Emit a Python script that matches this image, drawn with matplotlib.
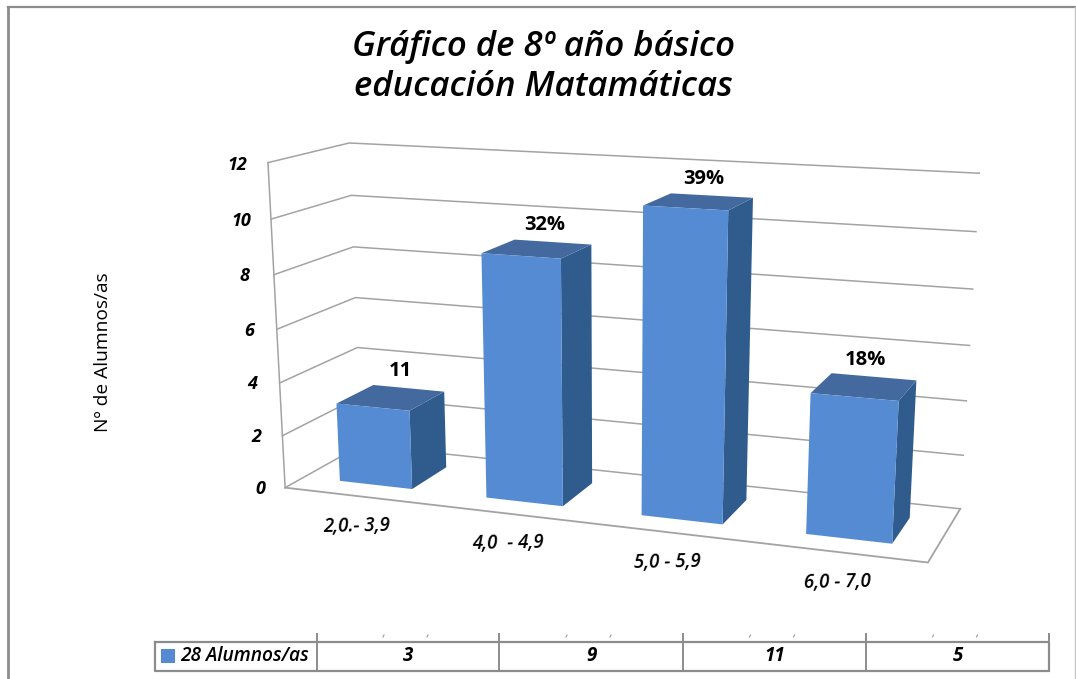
import numpy as np
import matplotlib
matplotlib.use('Agg')
import matplotlib.pyplot as plt
from matplotlib.patches import Polygon

categorias = ['2,0.- 3,9', '4,0  - 4,9', '5,0 - 5,9', '6,0 - 7,0']
alumnos = [3, 9, 11, 5]
etiquetas = ['11', '32%', '39%', '18%']
ticks_z = [0, 2, 4, 6, 8, 10, 12]
tabla_valores = ['3', '9', '11', '5']
serie = '28 Alumnos/as'
titulo = 'Gráfico de 8º año básico\neducación Matamáticas'
eje_y = 'Nº de Alumnos/as'

# Puntos de la caja 3D: (u, d, z) --> pixel
caja = [(0, 0, 0), (0, 0, 12), (0, 1, 0), (0, 1, 12), (1, 0, 0),
        (1, 1, 0), (1, 1, 12), (0, 0, 10), (0, 1, 6), (1, 1, 6)]
pix = [(285, 487), (267, 163), (361, 446), (349, 143), (928, 563),
       (960, 508), (979, 173), (272, 219), (356, 297), (970, 346)]

def camara(caja, pix):
    A = []
    for (u, d, z), (px, py) in zip(caja, pix):
        A.append([u, d, z, 1, 0, 0, 0, 0, -px*u, -px*d, -px*z, -px])
        A.append([0, 0, 0, 0, u, d, z, 1, -py*u, -py*d, -py*z, -py])
    return np.linalg.svd(np.array(A, float))[2][-1].reshape(3, 4)

P = camara(caja, pix)

def proy(u, d, z):
    q = P @ np.array([u, d, z, 1.0])
    return q[0]/q[2], q[1]/q[2]

plt.rcParams['font.family'] = 'Open Sans'
fig = plt.figure(figsize=(10.76, 6.79), dpi=100)
ax = fig.add_axes([0, 0, 1, 1])
ax.set_xlim(0, 1076)
ax.set_ylim(679, 0)
ax.axis('off')

# Marco exterior
ax.plot([8, 8], [679, 7], color='#8c8c8c', lw=2)
ax.plot([8, 1075], [7, 7], color='#8c8c8c', lw=1.6)
ax.plot([1075, 1075], [7, 679], color='#c4c4c4', lw=1)

ax.text(543.5, 67, titulo, ha='center', va='center', fontsize=25, style='italic',
        weight='semibold', linespacing=1.26, color='black')
ax.text(103, 352, eje_y, rotation=90, ha='center', va='center', fontsize=13.8,
        weight='medium', color='black')

# Rejilla
gris = '#a3a3a3'
for z in ticks_z:
    a, b, c = proy(0, 0, z), proy(0, 1, z), proy(1, 1, z)
    ax.plot([a[0], b[0], c[0]], [a[1], b[1], c[1]], color=gris, lw=1.1)
    ax.text(a[0]-25-z/2, a[1]+1+z/12, str(z), ha='center', va='center', fontsize=13,
            style='italic', weight='bold', color='black')
a, b = proy(0, 0, 0), proy(0, 0, 12)
ax.plot([a[0], b[0]], [a[1], b[1]], color=gris, lw=1.1)
piso = [proy(0, 0, 0), proy(1, 0, 0), proy(1, 1, 0)]
ax.plot([p[0] for p in piso], [p[1] for p in piso], color=gris, lw=1.3)

# Barras
ancho = 0.125
d0, d1 = 0.24, 0.73
for i, v in enumerate(alumnos):
    u0 = (i+0.5)/4 - ancho/2
    u1 = u0 + ancho
    frente = [proy(u0, d0, 0), proy(u1, d0, 0), proy(u1, d0, v), proy(u0, d0, v)]
    lado = [proy(u1, d0, 0), proy(u1, d1, 0), proy(u1, d1, v), proy(u1, d0, v)]
    tapa = [proy(u0, d0, v), proy(u1, d0, v), proy(u1, d1, v), proy(u0, d1, v)]
    ax.add_patch(Polygon(lado, color='#2f5c8c', lw=0, zorder=3))
    ax.add_patch(Polygon(tapa, color='#44699f', lw=0, zorder=3))
    ax.add_patch(Polygon(frente, color='#558bd2', lw=0, zorder=4))
    x, y = proy((u0+u1)/2, d1, v)
    ax.text(x-8, y-17, etiquetas[i], ha='center', va='center', fontsize=14.5,
            weight='bold', color='black', zorder=5)
    x, y = proy((u0+u1)/2, 0, 0)
    ax.text(x-1, y+30, categorias[i], ha='center', va='center', fontsize=13.5,
            style='italic', weight='semibold', rotation=1, color='black')

# Tabla de datos
bordes = [317, 499, 683, 866, 1049]
y0, y1 = 642, 671
lin = '#8c8c8c'
ax.plot([155, 1049, 1049, 155, 155], [y0, y0, y1, y1, y0], color=lin, lw=1.6)
for x in bordes:
    ax.plot([x, x], [634, y1], color=lin, lw=1.4)
ax.scatter([168], [656], marker='s', s=110, color='#558bd2', lw=0)
ax.text(180, 656, serie, ha='left', va='center', fontsize=13.8, style='italic',
        weight='semibold', color='black')
for i, t in enumerate(tabla_valores):
    xc = (bordes[i]+bordes[i+1])/2
    ax.text(xc, 656, t, ha='center', va='center', fontsize=13.5, style='italic',
            weight='bold', color='black')
    ax.plot([xc-25, xc-24], [637, 635], color='#9a9a9a', lw=0.8)
    ax.plot([xc+19, xc+20], [637, 635], color='#9a9a9a', lw=0.8)

fig.savefig('out.png', dpi=100)
